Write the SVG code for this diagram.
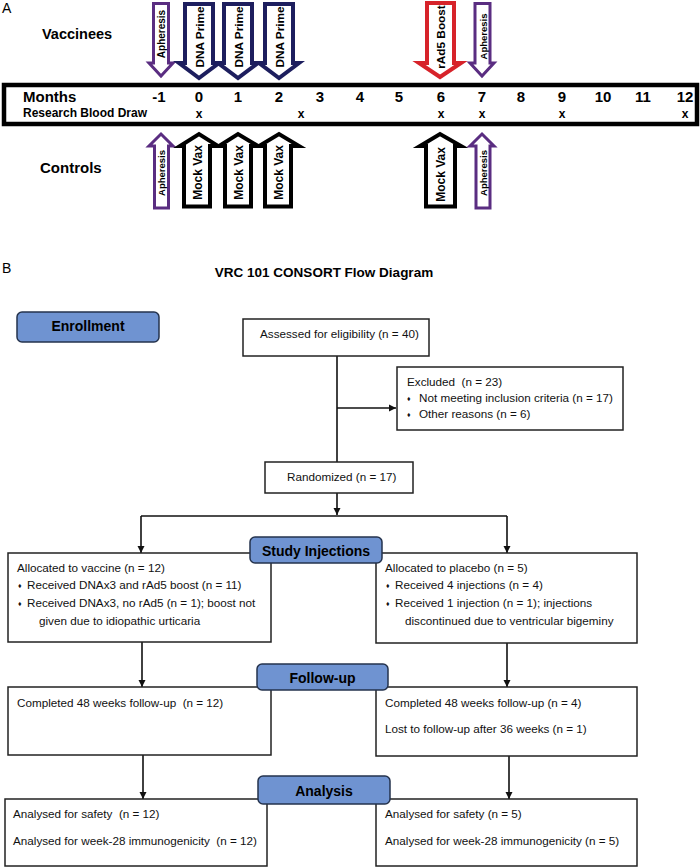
<svg xmlns="http://www.w3.org/2000/svg" width="700" height="868" viewBox="0 0 700 868">
<defs>
<marker id="ah" markerUnits="userSpaceOnUse" markerWidth="8" markerHeight="8" refX="7" refY="4" orient="auto">
<path d="M0,0.5 L7,4 L0,7.5 Z" fill="#111"/>
</marker>
<style>
.bl{font-family:"Liberation Sans",Arial,sans-serif;font-weight:bold;fill:#000}
.ft{font-family:"Liberation Sans",Arial,sans-serif;font-size:11.7px;fill:#111}
.box{fill:#fff;stroke:#222;stroke-width:1.5}
.lab{fill:#6f93d1;stroke:#25334d;stroke-width:1.5}
.con{fill:none;stroke:#111;stroke-width:1.6}
.apo{fill:#fff;stroke:#5a2d81;stroke-width:3}
.dna{fill:#fff;stroke:#1d1e5e;stroke-width:4}
.red{fill:#fff;stroke:#d7232a;stroke-width:4}
.mock{fill:#fff;stroke:#000;stroke-width:4}
.mo{font-family:"Liberation Sans",Arial,sans-serif;font-weight:bold;font-size:15px;text-anchor:middle}
.xx{font-family:"Liberation Sans",Arial,sans-serif;font-weight:bold;font-size:12px;text-anchor:middle}
.rt{font-family:"Liberation Sans",Arial,sans-serif;font-weight:bold;text-anchor:middle}
.bu{font-size:7px}
</style>
</defs>
<rect width="700" height="868" fill="#fff"/>

<!-- Panel A -->
<g id="panelA">
<text x="2" y="13" font-family="Liberation Sans, Arial, sans-serif" font-size="14">A</text>
<text x="42" y="39" class="bl" font-size="14.5">Vaccinees</text>
<text x="40" y="173" class="bl" font-size="15">Controls</text>

<g id="timeline">
<rect x="4" y="85" width="693" height="39" fill="#fff" stroke="#000" stroke-width="4.5"/>
<text x="23" y="102" class="bl" font-size="15">Months</text>
<text x="23" y="117" class="bl" font-size="12">Research Blood Draw</text>
<text class="mo" x="159" y="102">-1</text>
<text class="mo" x="199" y="102">0</text>
<text class="mo" x="238" y="102">1</text>
<text class="mo" x="279" y="102">2</text>
<text class="mo" x="320" y="102">3</text>
<text class="mo" x="360" y="102">4</text>
<text class="mo" x="399" y="102">5</text>
<text class="mo" x="441" y="102">6</text>
<text class="mo" x="482" y="102">7</text>
<text class="mo" x="521" y="102">8</text>
<text class="mo" x="562" y="102">9</text>
<text class="mo" x="603" y="102">10</text>
<text class="mo" x="643" y="102">11</text>
<text class="mo" x="685" y="102">12</text>
<text class="xx" x="199" y="118">x</text>
<text class="xx" x="301" y="118">x</text>
<text class="xx" x="441" y="118">x</text>
<text class="xx" x="482" y="118">x</text>
<text class="xx" x="562" y="118">x</text>
<text class="xx" x="685" y="118">x</text>
</g>

<!-- Vaccinee arrows (down) -->
<g id="v-apheresis-1">
<path class="apo" d="M153.5,3.5 H168.5 V63 H173 L161,76 L149,63 H153.5 Z"/>
<text class="rt" font-size="10" transform="translate(164.5,34) rotate(-90)">Apheresis</text>
</g>
<g id="v-dna-0">
<path class="dna" d="M185,4 H213 V63 H219 L199,78 L179,63 H185 Z"/>
<text class="rt" font-size="11.8" transform="translate(204,37) rotate(-90)">DNA Prime</text>
</g>
<g id="v-dna-1">
<path class="dna" d="M224,4 H252 V63 H258 L238,78 L218,63 H224 Z"/>
<text class="rt" font-size="11.8" transform="translate(243,37) rotate(-90)">DNA Prime</text>
</g>
<g id="v-dna-2">
<path class="dna" d="M265,4 H293 V63 H299 L279,78 L259,63 H265 Z"/>
<text class="rt" font-size="11.8" transform="translate(284,37) rotate(-90)">DNA Prime</text>
</g>
<g id="v-rad5">
<path class="red" d="M427,3 H454 V63 H461 L440,77 L419,63 H427 Z"/>
<text class="rt" font-size="11.8" fill="#000" transform="translate(445,37) rotate(-90)">rAd5 Boost</text>
</g>
<g id="v-apheresis-7">
<path class="apo" d="M475,3.5 H490 V63 H494 L482,76 L470,63 H475 Z"/>
<text class="rt" font-size="9.5" transform="translate(486.5,36.5) rotate(-90)">Apheresis</text>
</g>

<!-- Control arrows (up) -->
<g id="c-apheresis-1">
<path class="apo" d="M154.5,208 H168.5 V146 H173 L161,134 L149,146 H154.5 Z"/>
<text class="rt" font-size="9.5" transform="translate(164.5,173) rotate(-90)">Apheresis</text>
</g>
<g id="c-mock-0">
<path class="mock" d="M184,206.5 H210 V146 H218 L199,134 L180,146 H184 Z"/>
<text class="rt" font-size="12" transform="translate(202,172.5) rotate(-90)">Mock Vax</text>
</g>
<g id="c-mock-1">
<path class="mock" d="M225,206.5 H251 V146 H258 L238,134 L219,146 H225 Z"/>
<text class="rt" font-size="12" transform="translate(243,172.5) rotate(-90)">Mock Vax</text>
</g>
<g id="c-mock-2">
<path class="mock" d="M265,206.5 H291 V146 H299 L279,134 L259,146 H265 Z"/>
<text class="rt" font-size="12" transform="translate(283,172.5) rotate(-90)">Mock Vax</text>
</g>
<g id="c-mock-6">
<path class="mock" d="M426,206.5 H455 V146 H461 L440,134 L420,146 H426 Z"/>
<text class="rt" font-size="12" transform="translate(445,174.5) rotate(-90)">Mock Vax</text>
</g>
<g id="c-apheresis-7">
<path class="apo" d="M476,208 H490 V146 H494 L482,134 L470,146 H476 Z"/>
<text class="rt" font-size="9.5" transform="translate(486.5,173) rotate(-90)">Apheresis</text>
</g>
</g>

<!-- Panel B -->
<text x="2" y="273" font-family="Liberation Sans, Arial, sans-serif" font-size="14">B</text>
<text x="324" y="277" class="bl" font-size="13.5" text-anchor="middle">VRC 101 CONSORT Flow Diagram</text>

<g id="connectors">
<path class="con" d="M337,356 V462"/>
<path class="con" d="M337,408 H396" marker-end="url(#ah)"/>
<path class="con" d="M337,493 V515" marker-end="url(#ah)"/>
<path class="con" d="M141,516 H507"/>
<path class="con" d="M141,516 V553" marker-end="url(#ah)"/>
<path class="con" d="M507,516 V553" marker-end="url(#ah)"/>
<path class="con" d="M142,642 V687" marker-end="url(#ah)"/>
<path class="con" d="M507,643 V687" marker-end="url(#ah)"/>
<path class="con" d="M143,755 V799" marker-end="url(#ah)"/>
<path class="con" d="M509,756 V799" marker-end="url(#ah)"/>
</g>

<g id="assessed">
<rect class="box" x="243" y="319" width="186" height="37"/>
<text class="ft" x="260" y="338">Assessed for eligibility (n = 40)</text>
</g>
<g id="excluded">
<rect class="box" x="397" y="367" width="226" height="63"/>
<text class="ft" x="407" y="386" xml:space="preserve">Excluded  (n = 23)</text>
<text class="ft" x="407" y="402"><tspan class="bu" dy="-1">♦</tspan><tspan x="419" dy="1">Not meeting inclusion criteria (n = 17)</tspan></text>
<text class="ft" x="407" y="418"><tspan class="bu" dy="-1">♦</tspan><tspan x="419" dy="1">Other reasons (n = 6)</tspan></text>
</g>
<g id="randomized">
<rect class="box" x="265" y="462" width="148" height="31"/>
<text class="ft" x="287" y="481">Randomized (n = 17)</text>
</g>

<g id="alloc-vaccine">
<rect class="box" x="8" y="553" width="263" height="89"/>
<text class="ft" x="17" y="572">Allocated to vaccine (n = 12)</text>
<text class="ft" x="18" y="589"><tspan class="bu" dy="-1">♦</tspan><tspan x="27" dy="1">Received DNAx3 and rAd5 boost (n = 11)</tspan></text>
<text class="ft" x="18" y="607"><tspan class="bu" dy="-1">♦</tspan><tspan x="27" dy="1">Received DNAx3, no rAd5 (n = 1); boost not</tspan></text>
<text class="ft" x="39" y="625">given due to idiopathic urticaria</text>
</g>
<g id="alloc-placebo">
<rect class="box" x="376" y="553" width="261" height="90"/>
<text class="ft" x="385" y="572">Allocated to placebo (n = 5)</text>
<text class="ft" x="386" y="589"><tspan class="bu" dy="-1">♦</tspan><tspan x="395" dy="1">Received 4 injections (n = 4)</tspan></text>
<text class="ft" x="386" y="607"><tspan class="bu" dy="-1">♦</tspan><tspan x="395" dy="1">Received 1 injection (n = 1); injections</tspan></text>
<text class="ft" x="405" y="625">discontinued due to ventricular bigeminy</text>
</g>
<g id="lab-injections">
<rect class="lab" x="250" y="537" width="132" height="26" rx="5"/>
<text x="316" y="556" class="bl" font-size="14" text-anchor="middle">Study Injections</text>
</g>

<g id="followup-vaccine">
<rect class="box" x="8" y="687" width="263" height="68"/>
<text class="ft" x="17" y="707" xml:space="preserve">Completed 48 weeks follow-up  (n = 12)</text>
</g>
<g id="followup-placebo">
<rect class="box" x="376" y="687" width="261" height="69"/>
<text class="ft" x="385" y="707">Completed 48 weeks follow-up (n = 4)</text>
<text class="ft" x="385" y="733">Lost to follow-up after 36 weeks (n = 1)</text>
</g>
<g id="lab-followup">
<rect class="lab" x="257" y="664" width="131" height="26" rx="5"/>
<text x="322.5" y="683" class="bl" font-size="14" text-anchor="middle">Follow-up</text>
</g>

<g id="analysis-vaccine">
<rect class="box" x="5" y="799" width="262" height="67"/>
<text class="ft" x="13" y="818" xml:space="preserve">Analysed for safety  (n = 12)</text>
<text class="ft" x="13" y="845" xml:space="preserve">Analysed for week-28 immunogenicity  (n = 12)</text>
</g>
<g id="analysis-placebo">
<rect class="box" x="376" y="799" width="261" height="67"/>
<text class="ft" x="385" y="818">Analysed for safety (n = 5)</text>
<text class="ft" x="385" y="845">Analysed for week-28 immunogenicity (n = 5)</text>
</g>
<g id="lab-analysis">
<rect class="lab" x="258" y="776" width="132" height="28" rx="5"/>
<text x="324" y="796" class="bl" font-size="14" text-anchor="middle">Analysis</text>
</g>

<g id="lab-enrollment">
<rect class="lab" x="17" y="312" width="142" height="30" rx="5"/>
<text x="88" y="331" class="bl" font-size="14" text-anchor="middle">Enrollment</text>
</g>
</svg>
